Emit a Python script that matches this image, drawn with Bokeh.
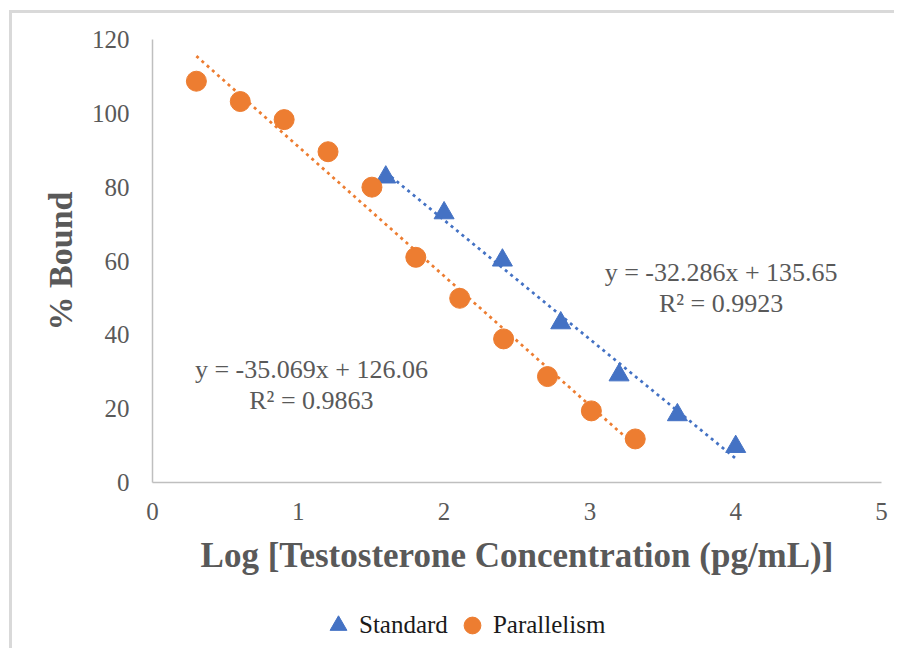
from bokeh.plotting import figure
from bokeh.layouts import column
from bokeh.models import Range1d, FixedTicker, Label, Legend, LegendItem, InlineStyleSheet
from bokeh.embed import file_html
from bokeh.resources import INLINE

# ---- data ----
std_x = [1.6, 2.0, 2.4, 2.8, 3.2, 3.6, 4.0]
std_y = [82.7, 73.0, 60.2, 43.2, 29.1, 18.3, 9.7]
par_x = [0.301, 0.602, 0.903, 1.204, 1.505, 1.806, 2.107, 2.408, 2.709, 3.010, 3.311]
par_y = [108.7, 103.2, 98.3, 89.6, 80.0, 61.0, 49.9, 38.9, 28.7, 19.4, 11.8]
std_slope, std_intercept, std_r2 = -32.286, 135.65, 0.9923
par_slope, par_intercept, par_r2 = -35.069, 126.06, 0.9863
x_ticks = [0, 1, 2, 3, 4, 5]
y_ticks = [0, 20, 40, 60, 80, 100, 120]
series_names = ["Standard", "Parallelism"]

BLUE = "#4472C4"
ORANGE = "#ED7D31"
GRAY = "#595959"
FONT = "Liberation Serif"

p = figure(width=894, height=590, output_backend="svg", toolbar_location=None,
           x_range=Range1d(x_ticks[0], x_ticks[-1]), y_range=Range1d(y_ticks[0], y_ticks[-1]),
           min_border_left=152, min_border_right=13, min_border_top=39, min_border_bottom=108)
p.outline_line_color = None
p.grid.visible = False
p.background_fill_color = "white"
p.border_fill_alpha = 0

# trendlines
std_tx = [min(std_x), max(std_x)]
par_tx = [min(par_x), max(par_x)]
p.line(std_tx, [std_slope * v + std_intercept for v in std_tx],
       line_color=BLUE, line_width=2.75, line_dash="3 4")
p.line(par_tx, [par_slope * v + par_intercept for v in par_tx],
       line_color=ORANGE, line_width=2.75, line_dash="3 4")

marker_style = dict(size=20)
p.scatter(std_x, std_y, marker="triangle", fill_color=BLUE, line_color=BLUE, **marker_style)
p.scatter(par_x, par_y, marker="circle", fill_color=ORANGE, line_color=ORANGE, **marker_style)

# axes
for ax in (p.xaxis[0], p.yaxis[0]):
    ax.axis_line_color = "#bfbfbf"
    ax.axis_line_width = 1.5
    ax.major_tick_line_color = None
    ax.minor_tick_line_color = None
    ax.major_tick_out = 0
    ax.major_tick_in = 0
    ax.major_label_text_font = FONT
    ax.major_label_text_font_size = "25px"
    ax.major_label_text_color = GRAY
    ax.axis_label_text_font = FONT
    ax.axis_label_text_font_style = "bold"
    ax.axis_label_text_color = GRAY

p.xaxis.ticker = FixedTicker(ticks=x_ticks)
p.yaxis.ticker = FixedTicker(ticks=y_ticks)
p.xaxis.major_label_standoff = 20
p.yaxis.major_label_standoff = 23
p.xaxis.axis_label = "Log [Testosterone Concentration (pg/mL)]"
p.yaxis.axis_label = "% Bound"
p.xaxis.axis_label_text_font_size = "35px"
p.yaxis.axis_label_text_font_size = "34px"
p.xaxis.axis_label_standoff = 13
p.yaxis.axis_label_standoff = 10

# regression annotations
def add_eq(xc, y1, y2, slope, intercept, r2):
    p.add_layout(Label(x=xc, y=y1, text=f"y = {slope}x + {intercept}",
                       text_align="center", text_baseline="alphabetic",
                       text_font=FONT, text_font_size="26px", text_color=GRAY))
    p.add_layout(Label(x=xc, y=y2, text=f"R\u00b2 = {r2}",
                       text_align="center", text_baseline="alphabetic",
                       text_font=FONT, text_font_size="26px", text_color=GRAY))

add_eq(3.90, 56.9, 48.4, std_slope, std_intercept, std_r2)
add_eq(1.09, 30.7, 22.1, par_slope, par_intercept, par_r2)

# ---- legend strip (separate small figure below the chart) ----
q = figure(width=894, height=58, output_backend="svg", toolbar_location=None,
           x_range=Range1d(10, 11), y_range=Range1d(-2, -1),
           min_border_left=0, min_border_right=0, min_border_top=0, min_border_bottom=0)
q.axis.visible = False
q.grid.visible = False
q.outline_line_color = None
q.background_fill_alpha = 0
q.border_fill_alpha = 0
l_std = q.scatter(std_x, std_y, marker="triangle", fill_color=BLUE, line_color=BLUE, **marker_style)
l_par = q.scatter(par_x, par_y, marker="circle", fill_color=ORANGE, line_color=ORANGE, **marker_style)

legend = Legend(items=[LegendItem(label=series_names[0], renderers=[l_std]),
                       LegendItem(label=series_names[1], renderers=[l_par])],
                orientation="horizontal", location=(165, 2),
                glyph_width=42, glyph_height=42, label_standoff=0, spacing=3,
                padding=0, margin=0, border_line_color=None, background_fill_alpha=0)
legend.label_text_font = "Times New Roman"
legend.label_text_font_size = "25px"
legend.label_text_font_style = "normal"
legend.label_text_color = "#1a1a1a"
q.add_layout(legend)
legend_css = InlineStyleSheet(css=":host { --bokeh-font-family: 'Liberation Serif', serif; } "
                                  "* { font-family: 'Liberation Serif', serif; }")
q.stylesheets = [legend_css]

layout = column(p, q, spacing=0)
# outer chart border (left and top edges visible, like the reference crop)
layout.styles = {"background": "linear-gradient(#d9d9d9, #d9d9d9) 9px 10px / 3px 100% no-repeat, "
                               "linear-gradient(#d9d9d9, #d9d9d9) 9px 10px / 100% 3px no-repeat, #ffffff"}

open("out.html", "w").write(file_html(layout, INLINE))
